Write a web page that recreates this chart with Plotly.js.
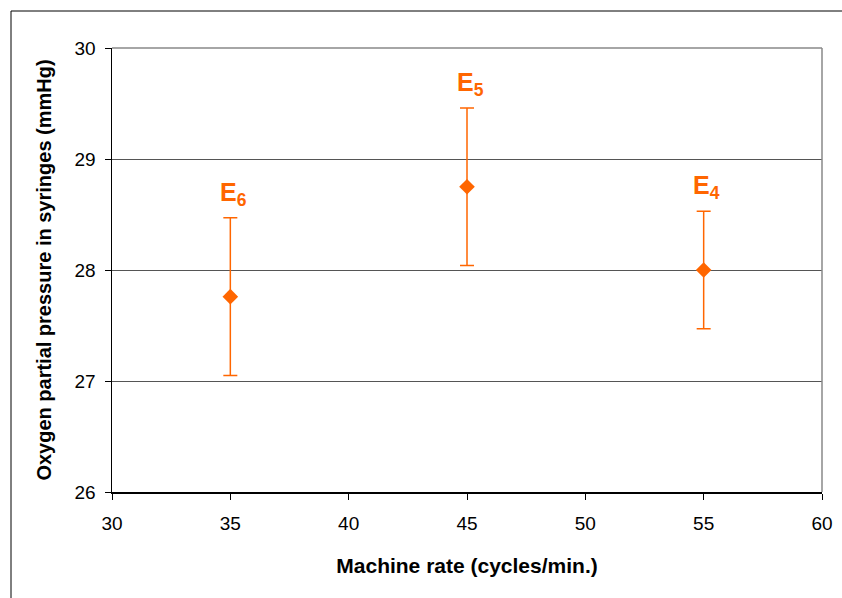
<!DOCTYPE html>
<html><head><meta charset="utf-8">
<script src="https://cdn.plot.ly/plotly-3.0.1.min.js"></script>
<style>html,body{margin:0;padding:0;background:#fff}#chart{width:842px;height:598px}</style>
</head><body><div id="chart"></div>
<script>
const rates = [35, 45, 55];
const pressure = [27.76, 28.75, 28.0];
const errors = [0.71, 0.71, 0.53];
const labels = ['E<sub>6</sub>', 'E<sub>5</sub>', 'E<sub>4</sub>'];
const xTicks = [30, 35, 40, 45, 50, 55, 60];
const yTicks = [26, 27, 28, 29, 30];
const orange = '#FF6600';
const FONT = 'Liberation Sans, Arial, sans-serif';

const trace = {
  x: rates, y: pressure, type: 'scatter', mode: 'markers',
  marker: {symbol: 'diamond', size: 12, color: orange},
  error_y: {type: 'data', array: errors, visible: true, color: orange, thickness: 1.5, width: 7},
  hoverinfo: 'skip', showlegend: false
};

const annotations = rates.map((r, i) => ({
  x: r, y: pressure[i] + errors[i], xref: 'x', yref: 'y',
  text: labels[i], showarrow: false, yanchor: 'bottom', yshift: 6, xshift: 3,
  font: {family: FONT, size: 25, color: orange, weight: 'bold'}
}));

const layout = {
  width: 842, height: 598,
  margin: {l: 112, r: 20, t: 48, b: 106},
  paper_bgcolor: '#fff', plot_bgcolor: '#fff',
  font: {family: FONT, color: '#000'},
  xaxis: {
    range: [30, 60], tickvals: xTicks, ticktext: xTicks.map(String),
    showgrid: false, zeroline: false, showline: true, linecolor: '#000', linewidth: 1.5,
    ticks: 'outside', ticklen: 6, tickcolor: '#000', tickfont: {size: 19},
    ticklabelstandoff: 8,
    title: {text: '<b>Machine rate (cycles/min.)</b>', font: {size: 21}, standoff: 25}
  },
  yaxis: {
    range: [26, 30], tickvals: yTicks, ticktext: yTicks.map(String),
    showgrid: true, gridcolor: '#555', gridwidth: 1, zeroline: false,
    showline: true, linecolor: '#000', linewidth: 1.5,
    ticks: 'outside', ticklen: 6, tickcolor: '#000', tickfont: {size: 19},
    ticklabelstandoff: 5,
    title: {text: '<b>Oxygen partial pressure in syringes (mmHg)</b>', font: {size: 20}, standoff: 17}
  },
  annotations: annotations,
  shapes: [
    {type: 'line', xref: 'paper', yref: 'paper', x0: 0, x1: 1, y0: 1, y1: 1, line: {color: '#888', width: 1.5}},
    {type: 'line', xref: 'paper', yref: 'paper', x0: 1, x1: 1, y0: 0, y1: 1, line: {color: '#888', width: 1.5}},
    {type: 'line', xref: 'paper', yref: 'paper', x0: (11-112)/710, x1: (842-112)/710, y0: (492-11)/444, y1: (492-11)/444, line: {color: '#000', width: 1}},
    {type: 'line', xref: 'paper', yref: 'paper', x0: (11-112)/710, x1: (11-112)/710, y0: (492-11)/444, y1: (492-598)/444, line: {color: '#000', width: 1}}
  ]
};

Plotly.newPlot('chart', [trace], layout, {displayModeBar: false, staticPlot: true});
</script></body></html>
